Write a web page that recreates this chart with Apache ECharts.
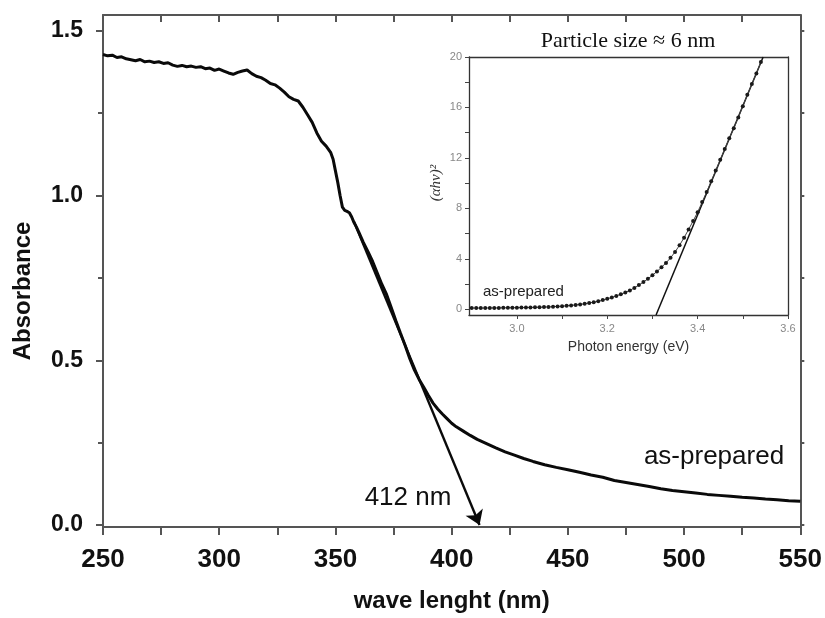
<!DOCTYPE html>
<html><head><meta charset="utf-8">
<script src="https://cdn.jsdelivr.net/npm/echarts@6/dist/echarts.min.js"></script>
<style>html,body{margin:0;padding:0;background:#fff}#c{width:825px;height:618px}</style>
</head><body><div id="c"></div><script>
// ---- main spectrum ----
const wavelength = [250,252,254,256,258,260,262,264,266,268,270,272,274,276,278,280,282,284,286,288,290,292,294,296,298,300,302,304,306,308,310,312,314,316,318,320,322,324,326,328,330,332,334,336,338,340,342,344,346,348,349,350,351,352,353,354,355,356,357,358,359,360,362,364,366,368,370,372,374,376,378,380,382,384,386,388,390,392,394,396,398,400,402,405,408,411,415,419,423,427,431,435,440,445,450,455,460,465,470,475,480,485,490,495,500,505,510,515,520,525,530,535,540,545,550];
const absorbance = [1.428,1.424,1.426,1.419,1.421,1.415,1.412,1.409,1.413,1.406,1.408,1.404,1.406,1.401,1.403,1.396,1.392,1.395,1.391,1.393,1.389,1.391,1.385,1.387,1.380,1.384,1.378,1.372,1.368,1.374,1.378,1.381,1.370,1.362,1.358,1.350,1.340,1.336,1.326,1.314,1.300,1.292,1.287,1.268,1.245,1.222,1.190,1.165,1.150,1.130,1.110,1.075,1.040,1.000,0.965,0.955,0.952,0.948,0.935,0.918,0.905,0.890,0.858,0.830,0.800,0.765,0.730,0.700,0.660,0.620,0.582,0.545,0.505,0.470,0.442,0.418,0.393,0.370,0.352,0.337,0.323,0.309,0.298,0.285,0.272,0.260,0.247,0.234,0.222,0.212,0.202,0.193,0.183,0.175,0.168,0.160,0.152,0.145,0.135,0.129,0.123,0.117,0.110,0.105,0.101,0.097,0.093,0.090,0.087,0.084,0.082,0.079,0.077,0.074,0.072];
const tangentNm = [358, 412];
const tangentAbs = [0.92, 0];
const mainYLabels = [0, 0.5, 1.0, 1.5];
const mainYMinorTicks = [0.25, 0.75, 1.25];
const mainYAllTicks = [0, 0.25, 0.5, 0.75, 1.0, 1.25, 1.5];

// ---- inset Tauc plot ----
const photonEnergy = [2.90,2.91,2.92,2.93,2.94,2.95,2.96,2.97,2.98,2.99,3.00,3.01,3.02,3.03,3.04,3.05,3.06,3.07,3.08,3.09,3.10,3.11,3.12,3.13,3.14,3.15,3.16,3.17,3.18,3.19,3.20,3.21,3.22,3.23,3.24,3.25,3.26,3.27,3.28,3.29,3.30,3.31,3.32,3.33,3.34,3.35,3.36,3.37,3.38,3.39,3.40,3.41,3.42,3.43,3.44,3.45,3.46,3.47,3.48,3.49,3.50,3.51,3.52,3.53,3.54];
const ahv2 = [0.10,0.10,0.10,0.10,0.11,0.11,0.11,0.12,0.12,0.13,0.13,0.14,0.14,0.15,0.16,0.17,0.18,0.19,0.21,0.23,0.25,0.28,0.31,0.35,0.39,0.44,0.50,0.57,0.64,0.73,0.83,0.94,1.06,1.19,1.33,1.50,1.70,1.92,2.16,2.42,2.70,3.00,3.33,3.68,4.08,4.55,5.08,5.68,6.33,7.00,7.70,8.50,9.30,10.15,11.00,11.85,12.70,13.55,14.35,15.20,16.10,17.00,17.85,18.70,19.60];
const fitEnergy = [3.308, 3.545];
const fitValue = [-0.45, 20];
const insetXLabels = [3.0, 3.2, 3.4, 3.6];
const insetXTicks = [3.0, 3.1, 3.2, 3.3, 3.4, 3.5, 3.6];
const insetYLabels = [0, 4, 8, 12, 16, 20];
const insetYTicks = [0, 2, 4, 6, 8, 10, 12, 14, 16, 18, 20];

const SANS = '"Liberation Sans", Arial, sans-serif';
const SERIF = '"Liberation Serif", "Times New Roman", serif';
const frame = {color: '#555', width: 2};
const iframe = {color: '#333', width: 1.3};

const mainData = wavelength.map((x, i) => [x, absorbance[i]]);
const insetData = photonEnergy.map((x, i) => [x, ahv2[i]]);
const fitData = fitEnergy.map((x, i) => [x, fitValue[i]]);

const chart = echarts.init(document.getElementById('c'), null, {renderer: 'canvas'});
const option = {
  animation: false,
  backgroundColor: '#fff',
  grid: [
    {left: 103, top: 15, right: 23, bottom: 87, containLabel: false},
    {left: 469, top: 57, width: 319, height: 258, show: true, backgroundColor: '#fff', borderWidth: 0, containLabel: false}
  ],
  xAxis: [
    {gridIndex: 0, type: 'value', min: 250, max: 550, interval: 50, position: 'bottom',
     axisLine: {show: true, onZero: false, lineStyle: frame},
     axisTick: {show: true, inside: false, length: 8, lineStyle: frame},
     minorTick: {show: true, splitNumber: 2, length: 8, lineStyle: frame},
     axisLabel: {margin: 20, fontFamily: SANS, fontWeight: 'bold', fontSize: 26, color: '#111'},
     splitLine: {show: false},
     name: 'wave lenght (nm)', nameLocation: 'middle', nameGap: 62,
     nameTextStyle: {fontFamily: SANS, fontWeight: 'bold', fontSize: 24, color: '#111'}},
    {gridIndex: 0, type: 'value', min: 250, max: 550, interval: 50, position: 'top',
     axisLine: {show: true, onZero: false, lineStyle: frame},
     axisTick: {show: true, inside: true, length: 7, lineStyle: frame},
     minorTick: {show: true, splitNumber: 2, length: 7, lineStyle: frame},
     axisLabel: {show: false}, splitLine: {show: false}},
    {gridIndex: 1, type: 'value', min: 2.894, max: 3.6, position: 'bottom',
     axisLine: {show: true, onZero: false, lineStyle: iframe},
     axisTick: {show: true, inside: false, length: 4, customValues: insetXTicks, lineStyle: {color: '#444', width: 1}},
     axisLabel: {customValues: insetXLabels, formatter: v => v.toFixed(1), margin: 8, fontFamily: SANS, fontSize: 11, color: '#888'},
     splitLine: {show: false},
     name: 'Photon energy (eV)', nameLocation: 'middle', nameGap: 25,
     nameTextStyle: {fontFamily: SANS, fontSize: 14, color: '#333'}},
    {gridIndex: 1, type: 'value', min: 2.894, max: 3.6, position: 'top',
     axisLine: {show: true, onZero: false, lineStyle: iframe},
     axisTick: {show: false}, axisLabel: {show: false}, splitLine: {show: false}}
  ],
  yAxis: [
    {gridIndex: 0, type: 'value', min: -0.006, max: 1.548, position: 'left',
     axisLine: {show: true, onZero: false, lineStyle: frame},
     axisTick: {show: true, inside: false, length: 7, customValues: mainYLabels, lineStyle: frame},
     axisLabel: {customValues: mainYLabels, formatter: v => v.toFixed(1), margin: 20, fontFamily: SANS, fontWeight: 'bold', fontSize: 23, color: '#111'},
     splitLine: {show: false}},
    {gridIndex: 0, type: 'value', min: -0.006, max: 1.548, position: 'left',
     axisLine: {show: false, onZero: false},
     axisTick: {show: true, inside: false, length: 5, customValues: mainYMinorTicks, lineStyle: frame},
     axisLabel: {show: false}, splitLine: {show: false}},
    {gridIndex: 0, type: 'value', min: -0.006, max: 1.548, position: 'right',
     axisLine: {show: true, onZero: false, lineStyle: frame},
     axisTick: {show: true, inside: false, length: 4, customValues: mainYAllTicks, lineStyle: frame},
     axisLabel: {show: false}, splitLine: {show: false}},
    {gridIndex: 1, type: 'value', min: -0.45, max: 20, position: 'left',
     axisLine: {show: true, onZero: false, lineStyle: iframe},
     axisTick: {show: true, inside: false, length: 4, customValues: insetYTicks, lineStyle: {color: '#444', width: 1}},
     axisLabel: {customValues: insetYLabels, margin: 7, fontFamily: SANS, fontSize: 11, color: '#888'},
     splitLine: {show: false}},
    {gridIndex: 1, type: 'value', min: -0.45, max: 20, position: 'right',
     axisLine: {show: true, onZero: false, lineStyle: iframe},
     axisTick: {show: false}, axisLabel: {show: false}, splitLine: {show: false}}
  ],
  series: [
    {type: 'line', xAxisIndex: 0, yAxisIndex: 0, data: mainData, showSymbol: false, smooth: false,
     lineStyle: {color: '#0a0a0a', width: 3}, z: 3,
     markLine: {silent: true, symbol: ['none', 'arrow'], symbolSize: 14,
       label: {show: false},
       lineStyle: {type: 'solid', color: '#0a0a0a', width: 2.4},
       data: [[{coord: [tangentNm[0], tangentAbs[0]]}, {coord: [tangentNm[1], tangentAbs[1]]}]]}},
    {type: 'line', xAxisIndex: 2, yAxisIndex: 3, data: insetData, symbol: 'circle', symbolSize: 4, showAllSymbol: true,
     itemStyle: {color: '#1a1a1a'}, lineStyle: {color: '#444', width: 1}, z: 5},
    {type: 'line', xAxisIndex: 2, yAxisIndex: 3, data: fitData, showSymbol: false,
     lineStyle: {color: '#111', width: 1.5}, z: 4}
  ],
  graphic: [
    {type: 'text', x: 23, y: 291, rotation: Math.PI / 2,
     style: {text: 'Absorbance', fill: '#111', font: 'bold 24px ' + SANS, textAlign: 'center', textVerticalAlign: 'middle'}},
    {type: 'text', x: 436, y: 183, rotation: Math.PI / 2, z: 10,
     style: {text: '(αhν)²', fill: '#333', font: 'italic 15px ' + SERIF, textAlign: 'center', textVerticalAlign: 'middle'}},
    {type: 'text', x: 628, y: 41, z: 10,
     style: {text: 'Particle size ≈ 6 nm', fill: '#111', font: '22px ' + SERIF, textAlign: 'center', textVerticalAlign: 'middle'}},
    {type: 'text', x: 408, y: 498, z: 10,
     style: {text: '412 nm', fill: '#111', font: '26px ' + SANS, textAlign: 'center', textVerticalAlign: 'middle'}},
    {type: 'text', x: 714, y: 457, z: 10,
     style: {text: 'as-prepared', fill: '#111', font: '26px ' + SANS, textAlign: 'center', textVerticalAlign: 'middle'}},
    {type: 'text', x: 483, y: 292, z: 10,
     style: {text: 'as-prepared', fill: '#222', font: '15px ' + SANS, textAlign: 'left', textVerticalAlign: 'middle'}}
  ]
};
chart.setOption(option);
</script></body></html>
